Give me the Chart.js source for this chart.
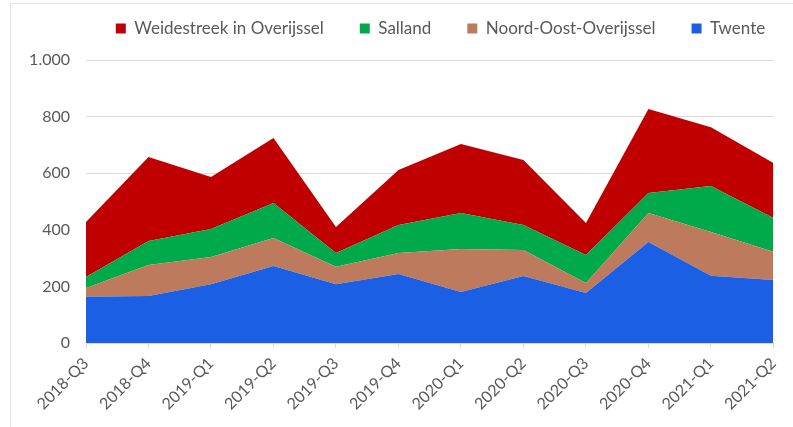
<!DOCTYPE html>
<html>
<head>
<meta charset="utf-8">
<script src="https://cdn.jsdelivr.net/npm/chart.js@4"></script>
<style>
  html, body { margin: 0; padding: 0; background: #fff; }
  #wrap { position: relative; width: 793px; height: 427px; }
  #frame { position: absolute; left: 10px; top: 3px; width: 790px; height: 430px; border: 1px solid #e3e3e3; box-sizing: border-box; pointer-events: none; }
  canvas { position: absolute; left: 0; top: 0; }
</style>
</head>
<body>
<div id="wrap">
  <div id="frame"></div>
  <canvas id="chart" width="793" height="427"></canvas>
</div>
<script>
// kwartalen
const quarters = ['2018-Q3', '2018-Q4', '2019-Q1', '2019-Q2', '2019-Q3', '2019-Q4',
                  '2020-Q1', '2020-Q2', '2020-Q3', '2020-Q4', '2021-Q1', '2021-Q2'];

// waarden per regio (gestapeld, onderste eerst)
const twente       = [163, 166, 208, 272, 208, 244, 180, 237, 177, 357, 238, 223];
const noordOost    = [31, 110, 96, 99, 61, 74, 152, 92, 35, 102, 154, 99];
const salland      = [39, 84, 99, 124, 49, 99, 127, 88, 99, 71, 163, 120];
const weidestreek  = [195, 297, 184, 229, 92, 194, 244, 230, 113, 297, 207, 194];

const yTicks = [0, 200, 400, 600, 800, 1000];

const fmt = v => v >= 1000 ? Math.floor(v / 1000) + '.' + String(v % 1000).padStart(3, '0') : String(v);

function area(label, data, color, fill) {
    return {
        label: label,
        data: data,
        backgroundColor: color,
        borderColor: color,
        borderWidth: 0,
        pointRadius: 0,
        tension: 0,
        fill: fill
    };
}

// legenda verschuiven naar de plek uit het origineel
const legendShift = {
    id: 'legendShift',
    afterLayout(chart) {
        const lg = chart.legend;
        if (lg) {
            lg.left += 52;
            lg.right += 52;
            lg.top -= 36;
            lg.bottom = lg.top + 80;
        }
    }
};

const ctx = document.getElementById('chart').getContext('2d');
new Chart(ctx, {
    type: 'line',
    data: {
        labels: quarters,
        datasets: [
            area('Twente', twente, '#1b5fe4', 'origin'),
            area('Noord-Oost-Overijssel', noordOost, '#bd7a5c', '-1'),
            area('Salland', salland, '#00a94a', '-1'),
            area('Weidestreek in Overijssel', weidestreek, '#c00000', '-1')
        ]
    },
    plugins: [legendShift],
    options: {
        responsive: false,
        animation: false,
        layout: { padding: { top: 0, right: 16, left: 0, bottom: 0 } },
        plugins: {
            legend: {
                reverse: true,
                maxHeight: 40,
                labels: {
                    boxWidth: 10,
                    boxHeight: 10,
                    padding: 36,
                    color: '#595959',
                    font: { family: 'Lato', size: 17 }
                }
            },
            tooltip: { enabled: false }
        },
        scales: {
            x: {
                offset: false,
                grid: { drawOnChartArea: false, color: '#d9d9d9', tickLength: 5 },
                border: { color: '#d9d9d9' },
                ticks: {
                    color: '#595959',
                    font: { family: 'Lato', size: 16 },
                    maxRotation: 45,
                    minRotation: 45,
                    padding: 6
                },
                afterFit: scale => { scale.height = 84; }
            },
            y: {
                stacked: true,
                min: 0,
                max: 1000,
                afterBuildTicks: scale => { scale.ticks = yTicks.map(v => ({ value: v })); },
                grid: { color: '#d9d9d9', drawTicks: false },
                border: { display: false },
                ticks: {
                    color: '#595959',
                    font: { family: 'Lato', size: 16 },
                    padding: 16,
                    callback: v => fmt(v)
                },
                afterFit: scale => {
                    scale.width = 86;
                    scale.paddingTop = 60;
                }
            }
        }
    }
});
</script>
</body>
</html>
